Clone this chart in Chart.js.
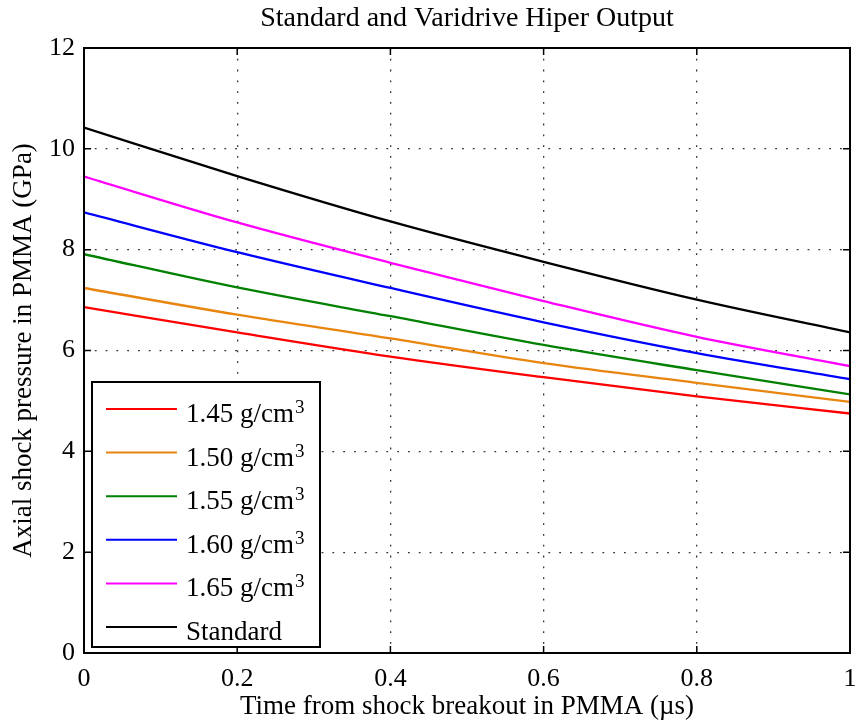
<!DOCTYPE html>
<html>
<head>
<meta charset="utf-8">
<script src="https://cdn.jsdelivr.net/npm/chart.js@4.4.0/dist/chart.umd.min.js"></script>
<style>
  html, body { margin: 0; padding: 0; background: #fff; }
  #wrap { width: 855px; height: 723px; }
</style>
</head>
<body>
<div id="wrap"><canvas id="myChart" width="855" height="723"></canvas></div>
<script>
// time from shock breakout (us)
const times = [0, 0.2, 0.4, 0.6, 0.8, 1];
// axial shock pressure (GPa)
const d145 = [6.86, 6.36, 5.88, 5.47, 5.09, 4.75];
const d150 = [7.24, 6.71, 6.24, 5.75, 5.36, 4.98];
const d155 = [7.91, 7.25, 6.68, 6.11, 5.61, 5.13];
const d160 = [8.74, 7.95, 7.24, 6.56, 5.95, 5.43];
const d165 = [9.45, 8.54, 7.74, 6.98, 6.27, 5.69];
const standard = [10.42, 9.46, 8.56, 7.76, 7.01, 6.36];
const xTicks = [0, 0.2, 0.4, 0.6, 0.8, 1];
const yTicks = [0, 2, 4, 6, 8, 10, 12];

const legendNames = ['1.45 g/cm', '1.50 g/cm', '1.55 g/cm', '1.60 g/cm', '1.65 g/cm', 'Standard'];
const colors = ['#ff0000', '#e8850f', '#008000', '#0000ff', '#ff00ff', '#000000'];

const serif = '"Liberation Serif", "DejaVu Serif", serif';

function pts(arr) {
  return arr.map((v, i) => ({ x: times[i], y: v }));
}

const allSeries = [d145, d150, d155, d160, d165, standard];

// frame, inner ticks, title and legend box (matlab style)
const matlabPlugin = {
  id: 'matlabStuff',
  afterDraw(chart) {
    const c = chart.ctx;
    const a = chart.chartArea;
    const xs = chart.scales.x, ys = chart.scales.y;
    c.save();
    c.strokeStyle = '#000';
    c.lineWidth = 2;
    c.strokeRect(a.left, a.top, a.right - a.left, a.bottom - a.top);
    c.lineWidth = 1.5;
    xTicks.forEach(t => {
      const px = xs.getPixelForValue(t);
      c.beginPath();
      c.moveTo(px, a.bottom); c.lineTo(px, a.bottom - 7);
      c.moveTo(px, a.top); c.lineTo(px, a.top + 7);
      c.stroke();
    });
    yTicks.forEach(t => {
      const py = ys.getPixelForValue(t);
      c.beginPath();
      c.moveTo(a.left, py); c.lineTo(a.left + 7, py);
      c.moveTo(a.right, py); c.lineTo(a.right - 7, py);
      c.stroke();
    });

    // title
    c.fillStyle = '#000';
    c.font = '28px ' + serif;
    c.textAlign = 'center';
    c.textBaseline = 'middle';
    c.fillText('Standard and Varidrive Hiper Output', (a.left + a.right) / 2, 19);

    // legend
    const bx = 92, by = 382, bw = 228, bh = 265;
    c.fillStyle = '#fff';
    c.fillRect(bx, by, bw, bh);
    c.lineWidth = 2;
    c.strokeStyle = '#000';
    c.strokeRect(bx, by, bw, bh);
    c.textAlign = 'left';
    c.textBaseline = 'alphabetic';
    legendNames.forEach((name, i) => {
      const ry = 409 + i * 43.6;
      c.strokeStyle = colors[i];
      c.lineWidth = 2;
      c.beginPath();
      c.moveTo(106, ry); c.lineTo(177, ry);
      c.stroke();
      c.fillStyle = '#000';
      c.font = '27px ' + serif;
      c.fillText(name, 186, ry + 13);
      if (i < 5) {
        const w = c.measureText(name).width;
        c.font = '19px ' + serif;
        c.fillText('3', 186 + w + 1, ry + 4);
      }
    });
    c.restore();
  }
};

var ctx = document.getElementById('myChart').getContext('2d');

var config = {
  type: 'line',
  data: {
    datasets: allSeries.map((s, i) => ({
      label: legendNames[i],
      data: pts(s),
      borderColor: colors[i],
      borderWidth: 2.3,
      pointRadius: 0,
      fill: false,
      cubicInterpolationMode: 'monotone'
    }))
  },
  options: {
    responsive: false,
    animation: false,
    layout: { padding: { top: 48, right: 5, left: 0, bottom: 0 } },
    plugins: {
      legend: { display: false },
      title: { display: false },
      tooltip: { enabled: false }
    },
    scales: {
      x: {
        type: 'linear',
        min: 0, max: 1,
        afterBuildTicks: s => { s.ticks = xTicks.map(v => ({ value: v })); },
        afterFit: s => { s.height = 70; s.paddingLeft = 0; s.paddingRight = 0; },
        ticks: {
          color: '#000',
          font: { family: serif, size: 26 },
          padding: 11,
          maxRotation: 0,
          callback: v => String(v)
        },
        grid: { color: '#333', lineWidth: 1.3, drawTicks: false },
        border: { display: false, dash: [1.8, 9] },
        title: {
          display: true,
          text: 'Time from shock breakout in PMMA (\u00b5s)',
          color: '#000',
          font: { family: serif, size: 27 },
          padding: { top: 0, bottom: 0 }
        }
      },
      y: {
        min: 0, max: 12,
        afterBuildTicks: s => { s.ticks = yTicks.map(v => ({ value: v })); },
        afterFit: s => { s.width = 84; s.paddingTop = 0; s.paddingBottom = 0; },
        ticks: {
          color: '#000',
          font: { family: serif, size: 26 },
          padding: 9
        },
        grid: { color: '#333', lineWidth: 1.3, drawTicks: false },
        border: { display: false, dash: [1.8, 9] },
        title: {
          display: true,
          text: 'Axial shock pressure in PMMA (GPa)',
          color: '#000',
          font: { family: serif, size: 27 },
          padding: { top: 8, bottom: 0 }
        }
      }
    }
  },
  plugins: [matlabPlugin]
};

var chart = new Chart(ctx, config);
</script>
</body>
</html>
